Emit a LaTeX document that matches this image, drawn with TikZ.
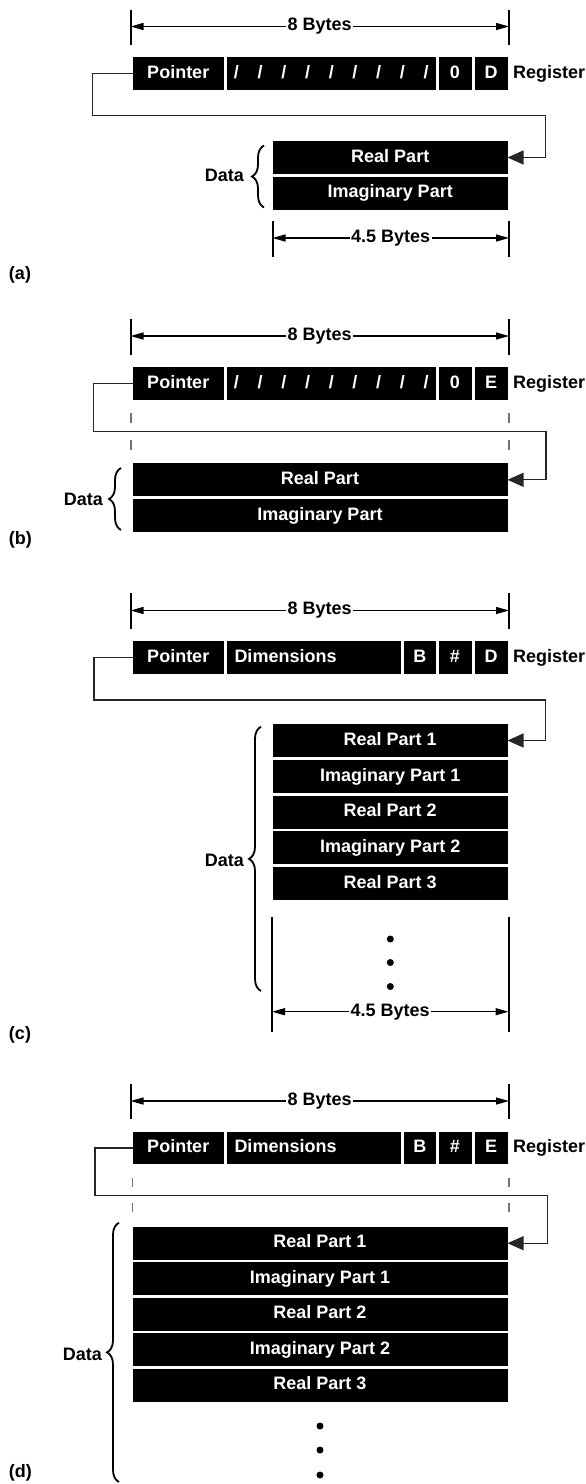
\documentclass[tikz,border=0pt]{standalone}
\usepackage{fontspec}
\setmainfont{Liberation Sans}
\usetikzlibrary{arrows.meta, decorations.pathreplacing}
\tikzset{
    every node/.style = {font=\fontsize{18}{21}\selectfont\bfseries, inner sep=0pt, outer sep=0pt},
    cell/.style = {fill=black, text=white, anchor=north west, minimum height=32.5pt, text height=13pt, text depth=3.5pt},
    datacell/.style = {cell, minimum height=33pt},
    dimcell/.style = {cell, minimum width=174pt, text width=159pt, inner xsep=7.5pt, align=left},
    dimline/.style = {{Triangle[length=13pt, width=7pt]}-{Triangle[length=13pt, width=7pt]}, line width=1.3pt},
    dimtick/.style = {line width=2pt},
    dimlabel/.style = {fill=white, inner xsep=1.5pt},
    link/.style = {-{Triangle[length=16pt, width=14pt]}, line width=1.3pt, black!85},
    guide/.style = {line width=1.2pt, black!55, dash pattern=on 10pt off 17pt},
    databrace/.style = {decorate, decoration={brace, amplitude=12pt}, line width=1.8pt},
    sidelabel/.style = {anchor=west, text height=13pt, text depth=3.5pt},
    datalabel/.style = {anchor=east, text height=13pt, text depth=3.5pt}
}
\newcommand{\slashfield}{/\kern18.7pt/\kern18.7pt/\kern18.7pt/\kern18.7pt/\kern18.7pt/\kern18.7pt/\kern18.7pt/\kern18.7pt/}

\begin{document}
\begin{tikzpicture}[x=1pt, y=-1pt]
    \useasboundingbox (0,0) rectangle (586,1484);

    % (a)
    \coordinate (lA) at (130.5,26.5);
    \coordinate (rA) at (509,26.5);
    \draw[dimtick] (lA) ++(0,-17) -- ++(0,35.5) (rA) ++(0,-17) -- ++(0,35.5);
    \draw[dimline] (lA) -- node[dimlabel] (bytesA) {8 Bytes} (rA);
    \node[cell, minimum width=91.5pt] (ptrA) at (132.5,57.3) {Pointer};
    \node[cell, minimum width=208.5pt] (fillA) at (227,57.3) {\slashfield};
    \node[cell, minimum width=33pt] (zeroA) at (438.5,57.3) {0};
    \node[cell, minimum width=33pt] (typeA) at (474.5,57.3) {D};
    \node[sidelabel] (regA) at ([xshift=5.5pt]typeA.east) {Register};
    \node[datacell, minimum width=234.5pt] (reA) at (273,141) {Real Part};
    \node[datacell, minimum width=234.5pt] (imA) at (273,176.6) {Imaginary Part};
    \draw[databrace] (264,207.5) -- (264,145.5);
    \node[datalabel] (dataA) at (244,177) {Data};
    \draw[link] (ptrA.west) -- ++(-40,0) |- (545.7,115.5) |- (reA.east);
    \coordinate (lhA) at (272.5,238);
    \coordinate (rhA) at (509,238);
    \draw[dimtick] (lhA) ++(0,-17) -- ++(0,36) (rhA) ++(0,-17) -- ++(0,36);
    \draw[dimline] (lhA) -- node[dimlabel] (halfA) {4.5 Bytes} (rhA);
    \node[anchor=west] (capA) at (9,275) {(a)};

    % (b)
    \coordinate (lB) at (130.5,336);
    \coordinate (rB) at (509,336);
    \draw[dimtick] (lB) ++(0,-17.5) -- ++(0,36) (rB) ++(0,-17.5) -- ++(0,36);
    \draw[dimline] (lB) -- node[dimlabel] (bytesB) {8 Bytes} (rB);
    \node[cell, minimum width=91.5pt] (ptrB) at (132.5,367) {Pointer};
    \node[cell, minimum width=208.5pt] (fillB) at (227,367) {\slashfield};
    \node[cell, minimum width=33pt] (zeroB) at (438.5,367) {0};
    \node[cell, minimum width=33pt] (typeB) at (474.5,367) {E};
    \node[sidelabel] (regB) at ([xshift=5.5pt]typeB.east) {Register};
    \draw[guide] (131,413) -- (131,452) (509,413) -- (509,452);
    \node[datacell, minimum width=375pt] (reB) at (132.5,463.3) {Real Part};
    \node[datacell, minimum width=375pt] (imB) at (132.5,498.9) {Imaginary Part};
    \draw[databrace] (121,530) -- (121,468);
    \node[datalabel] (dataB) at (103,501) {Data};
    \draw[link] (ptrB.west) -- ++(-39,0) |- (546,431.7) |- (reB.east);
    \node[anchor=west] (capB) at (9,540) {(b)};

    % (c)
    \coordinate (lC) at (130.5,610.5);
    \coordinate (rC) at (509,610.5);
    \draw[dimtick] (lC) ++(0,-17.5) -- ++(0,36) (rC) ++(0,-17.5) -- ++(0,36);
    \draw[dimline] (lC) -- node[dimlabel] (bytesC) {8 Bytes} (rC);
    \node[cell, minimum width=91.5pt] (ptrC) at (132.5,641) {Pointer};
    \node[dimcell] (dimC) at (227,641) {Dimensions};
    \node[cell, minimum width=31.5pt] (baseC) at (404,641) {B};
    \node[cell, minimum width=33pt] (numC) at (438.5,641) {\#};
    \node[cell, minimum width=33pt] (typeC) at (474.5,641) {D};
    \node[sidelabel] (regC) at ([xshift=5.5pt]typeC.east) {Register};
    \node[datacell, minimum width=234.5pt] (reC1) at (273,724) {Real Part 1};
    \node[datacell, minimum width=234.5pt] (imC1) at (273,759.8) {Imaginary Part 1};
    \node[datacell, minimum width=234.5pt] (reC2) at (273,795.6) {Real Part 2};
    \node[datacell, minimum width=234.5pt] (imC2) at (273,831.4) {Imaginary Part 2};
    \node[datacell, minimum width=234.5pt] (reC3) at (273,867.2) {Real Part 3};
    \foreach \y in {939,962.5,986.5}
        \fill (390.3,\y) circle (3.5);
    \draw[databrace] (261,991) -- (261,726.7);
    \node[datalabel] (dataC) at (244,862) {Data};
    \draw[link] (ptrC.west) -- ++(-38.5,0) |- (545.7,700) |- (reC1.east);
    \coordinate (lhC) at (272,1011.7);
    \coordinate (rhC) at (508.5,1011.7);
    \draw[dimtick] (lhC) ++(0,-95) -- ++(0,115.5) (rhC) ++(0,-95) -- ++(0,115.5);
    \draw[dimline] (lhC) -- node[dimlabel] (halfC) {4.5 Bytes} (rhC);
    \node[anchor=west] (capC) at (9,1035) {(c)};

    % (d)
    \coordinate (lD) at (130.5,1101);
    \coordinate (rD) at (509,1101);
    \draw[dimtick] (lD) ++(0,-17.5) -- ++(0,35) (rD) ++(0,-17.5) -- ++(0,35);
    \draw[dimline] (lD) -- node[dimlabel] (bytesD) {8 Bytes} (rD);
    \node[cell, minimum width=91.5pt] (ptrD) at (132.5,1131.7) {Pointer};
    \node[dimcell] (dimD) at (227,1131.7) {Dimensions};
    \node[cell, minimum width=31.5pt] (baseD) at (404,1131.7) {B};
    \node[cell, minimum width=33pt] (numD) at (438.5,1131.7) {\#};
    \node[cell, minimum width=33pt] (typeD) at (474.5,1131.7) {E};
    \node[sidelabel] (regD) at ([xshift=5.5pt]typeD.east) {Register};
    \draw[guide, dash pattern=on 9pt off 16pt] (132.5,1178) -- (132.5,1213) (509,1178) -- (509,1213);
    \node[datacell, minimum width=375pt] (reD1) at (132.5,1226.7) {Real Part 1};
    \node[datacell, minimum width=375pt] (imD1) at (132.5,1262.2) {Imaginary Part 1};
    \node[datacell, minimum width=375pt] (reD2) at (132.5,1297.7) {Real Part 2};
    \node[datacell, minimum width=375pt] (imD2) at (132.5,1333.2) {Imaginary Part 2};
    \node[datacell, minimum width=375pt] (reD3) at (132.5,1368.7) {Real Part 3};
    \foreach \y in {1426,1450,1475}
        \fill (320,\y) circle (3.5);
    \draw[databrace] (119,1482) -- (119,1222.7);
    \node[datalabel] (dataD) at (102,1356) {Data};
    \draw[link] (ptrD.west) -- ++(-37.5,0) |- (547.5,1195.5) |- (reD1.east);
    \node[anchor=west] (capD) at (9,1473) {(d)};
\end{tikzpicture}
\end{document}
